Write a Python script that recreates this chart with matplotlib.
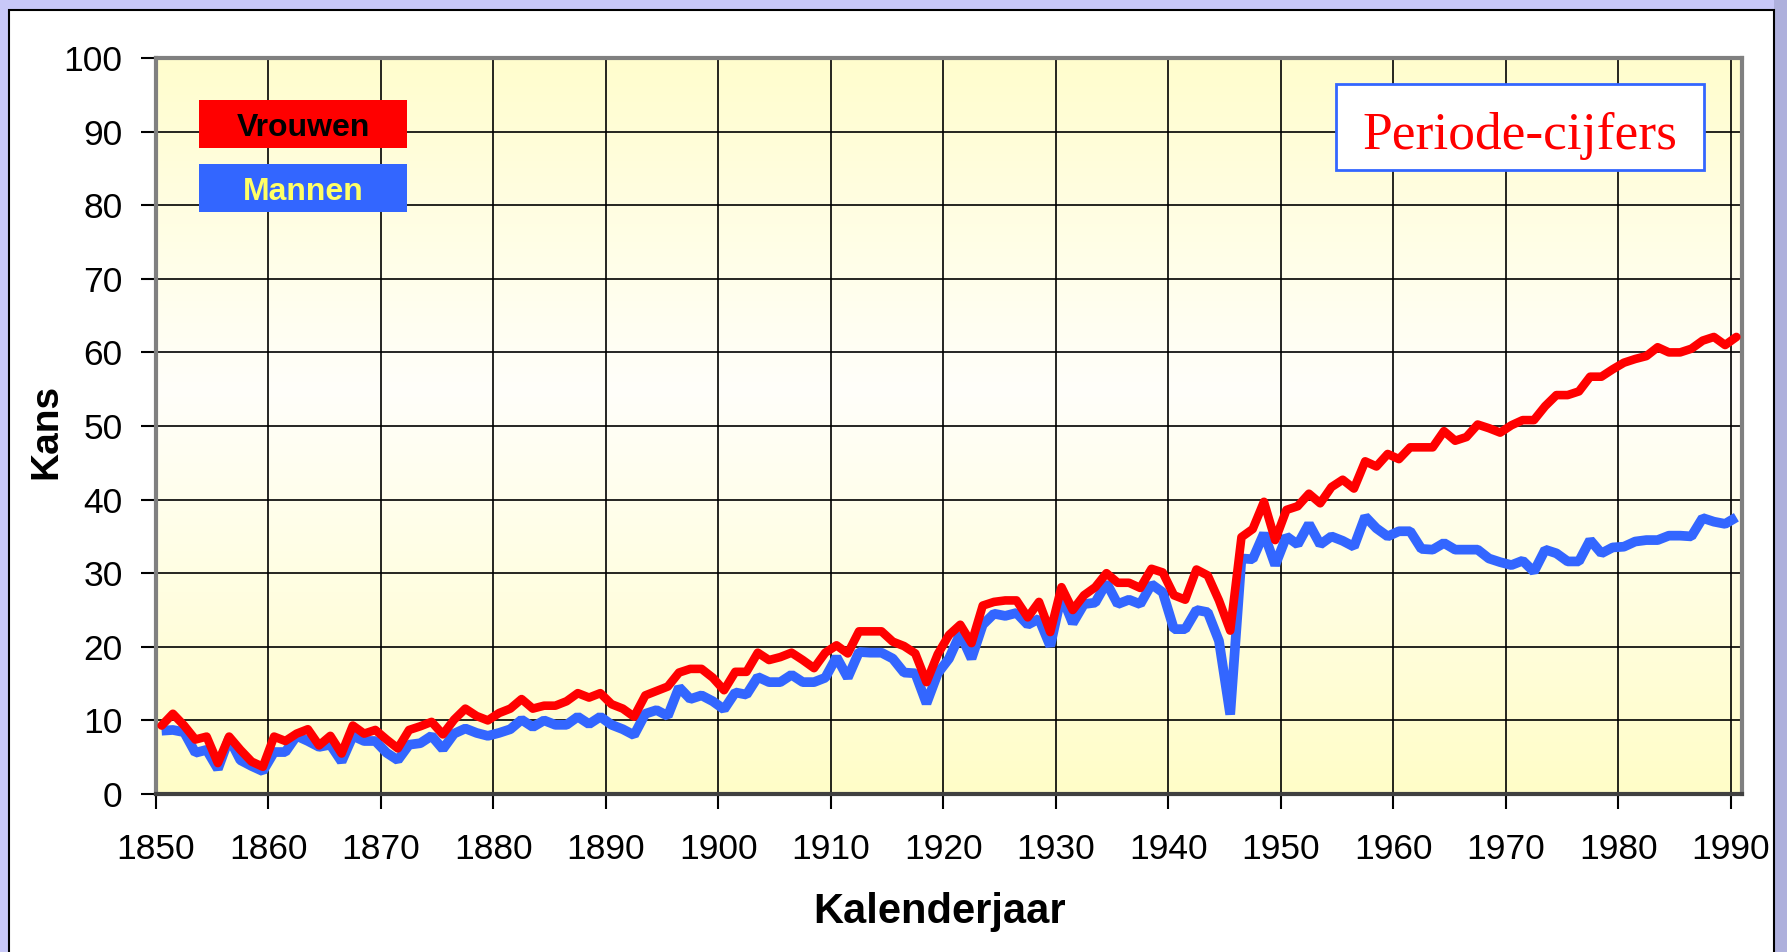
import matplotlib.pyplot as plt
import numpy as np
from matplotlib.patches import Rectangle

# jaartallen 1850 t/m 1990
jaren = np.arange(1850, 1991)

vrouwen = [9.3, 10.9, 9.3, 7.4, 7.8, 4.2, 7.8, 6.0, 4.4, 3.7,
           7.8, 7.2, 8.2, 8.8, 6.6, 7.9, 5.5, 9.3, 8.2, 8.7,
           7.4, 6.2, 8.7, 9.2, 9.8, 8.1, 10.1, 11.6, 10.6, 10.0,
           11.0, 11.6, 12.9, 11.6, 12.0, 12.0, 12.6, 13.7, 13.1, 13.7,
           12.2, 11.6, 10.5, 13.4, 14.0, 14.6, 16.5, 17.0, 17.0, 15.8,
           14.1, 16.6, 16.6, 19.2, 18.2, 18.6, 19.2, 18.2, 17.1, 19.2,
           20.2, 19.1, 22.1, 22.1, 22.1, 20.7, 20.1, 19.1, 15.2, 19.0,
           21.6, 23.0, 20.5, 25.6, 26.1, 26.3, 26.3, 24.0, 26.1, 22.0,
           28.1, 25.0, 27.0, 28.1, 30.0, 28.7, 28.7, 28.0, 30.6, 30.1,
           27.0, 26.4, 30.5, 29.7, 26.3, 22.2, 34.9, 36.0, 39.7, 34.5,
           38.6, 39.1, 40.8, 39.5, 41.7, 42.7, 41.5, 45.2, 44.5, 46.2,
           45.5, 47.1, 47.1, 47.1, 49.3, 48.0, 48.5, 50.2, 49.7, 49.1,
           50.1, 50.8, 50.8, 52.7, 54.2, 54.2, 54.7, 56.7, 56.7, 57.7,
           58.6, 59.1, 59.5, 60.7, 60.0, 60.0, 60.5, 61.6, 62.1, 61.0,
           62.1]

mannen = [8.6, 8.7, 8.4, 5.6, 6.0, 3.4, 7.6, 4.6, 3.8, 3.1,
          5.7, 5.7, 7.9, 7.2, 6.4, 6.7, 4.4, 7.9, 7.2, 7.2,
          5.6, 4.6, 6.7, 6.9, 7.9, 6.1, 8.2, 8.9, 8.3, 7.9,
          8.3, 8.8, 10.1, 9.1, 10.0, 9.4, 9.4, 10.5, 9.5, 10.5,
          9.4, 8.8, 8.0, 10.9, 11.4, 10.6, 14.5, 12.9, 13.4, 12.6,
          11.5, 13.8, 13.5, 15.9, 15.2, 15.2, 16.2, 15.2, 15.2, 15.8,
          18.6, 15.8, 19.3, 19.2, 19.2, 18.4, 16.5, 16.4, 12.3, 16.4,
          18.4, 21.8, 18.4, 23.0, 24.5, 24.2, 24.6, 23.0, 23.8, 20.1,
          27.0, 23.2, 25.8, 26.0, 28.7, 25.8, 26.4, 25.8, 28.5, 27.4,
          22.4, 22.4, 25.0, 24.7, 20.8, 10.8, 32.0, 31.9, 35.4, 31.1,
          35.0, 33.9, 36.7, 33.9, 35.0, 34.4, 33.6, 37.7, 36.1, 35.0,
          35.7, 35.7, 33.3, 33.2, 34.1, 33.2, 33.2, 33.2, 32.0, 31.5,
          31.1, 31.7, 30.2, 33.2, 32.7, 31.6, 31.6, 34.5, 32.7, 33.5,
          33.6, 34.3, 34.5, 34.5, 35.1, 35.1, 35.0, 37.5, 37.0, 36.7,
          37.6]

W, H = 1787, 952

fig = plt.figure(figsize=(W / 100, H / 100), dpi=100)
fig.patch.set_facecolor('#C8C8F8')

# rand en wit paneel (onder de assen)
fig.patches.append(Rectangle((1774 / W, 0), 13 / W, 1, transform=fig.transFigure,
                             facecolor='#AEB0DC', edgecolor='none', zorder=-2))
fig.patches.append(Rectangle((9 / W, -0.01), (1774 - 9) / W, (H - 10) / H + 0.01,
                             transform=fig.transFigure, facecolor='white',
                             edgecolor='black', linewidth=1.5, zorder=-1))

ax = fig.add_axes([156 / W, 158 / H, 1586 / W, 736 / H])

# achtergrond met kleurverloop (geel - wit - geel)
v = np.linspace(0, 100, 200)
r = np.full_like(v, 255.0)
g = np.interp(v, [0, 55, 100], [253, 255, 253])
b = np.interp(v, [0, 55, 100], [200, 250, 205])
img = np.stack([r, g, b], axis=-1)[:, None, :] / 255
ax.imshow(img, extent=[1850, 1991, 0, 100], origin='lower', aspect='auto', zorder=0)

ax.plot(jaren + 0.5, mannen, color='#3366FF', linewidth=7,
        solid_joinstyle='bevel', solid_capstyle='butt', zorder=3)
ax.plot(jaren + 0.5, vrouwen, color='#FF0000', linewidth=6.2,
        solid_joinstyle='round', solid_capstyle='round', zorder=4)

ax.set_xlim(1850, 1991)
ax.set_ylim(0, 100)
ax.set_xticks(range(1850, 1991, 10))
ax.set_yticks(range(0, 101, 10))
ax.grid(True, color='black', linewidth=1.2)
ax.set_axisbelow(True)

for s in ax.spines.values():
    s.set_color('#808080')
    s.set_linewidth(3)
ax.spines['bottom'].set_color('#404040')

ax.tick_params(axis='both', direction='out', length=11, width=1.5, colors='black',
               labelsize=25.5)
ax.tick_params(axis='x', pad=17)
ax.tick_params(axis='y', pad=13)
for lab in ax.get_xticklabels() + ax.get_yticklabels():
    lab.set_fontfamily('Liberation Sans')

fig.text(940 / W, 1 - 912 / H, 'Kalenderjaar', ha='center', va='center',
         fontsize=30, fontweight='bold', family='Liberation Sans')
fig.text(46 / W, 1 - 431 / H, 'Kans', ha='center', va='center', rotation=90,
         fontsize=28, fontweight='bold', family='Liberation Sans')

# legenda als gekleurde blokken
fig.patches.append(Rectangle((199 / W, 1 - 148 / H), 208 / W, 48 / H,
                             transform=fig.transFigure, facecolor='#FF0000',
                             edgecolor='none', zorder=5))
fig.patches.append(Rectangle((199 / W, 1 - 212 / H), 208 / W, 48 / H,
                             transform=fig.transFigure, facecolor='#3366FF',
                             edgecolor='none', zorder=5))
fig.text(303 / W, 1 - 125 / H, 'Vrouwen', ha='center', va='center_baseline', fontsize=23,
         fontweight='bold', color='black', family='Liberation Sans', zorder=6)
fig.text(303 / W, 1 - 189 / H, 'Mannen', ha='center', va='center_baseline', fontsize=23,
         fontweight='bold', color='#FFFF66', family='Liberation Sans', zorder=6)

# kader rechtsboven
fig.patches.append(Rectangle((1336 / W, 1 - 170 / H), 368 / W, 86 / H,
                             transform=fig.transFigure, facecolor='white',
                             edgecolor='#3366FF', linewidth=2, zorder=5))
fig.text(1520 / W, 1 - 130 / H, 'Periode-cijfers', ha='center', va='center_baseline',
         fontsize=38.5, color='#FF0000', family='Liberation Serif', zorder=6)

fig.savefig('out.png', dpi=100, facecolor=fig.get_facecolor())
